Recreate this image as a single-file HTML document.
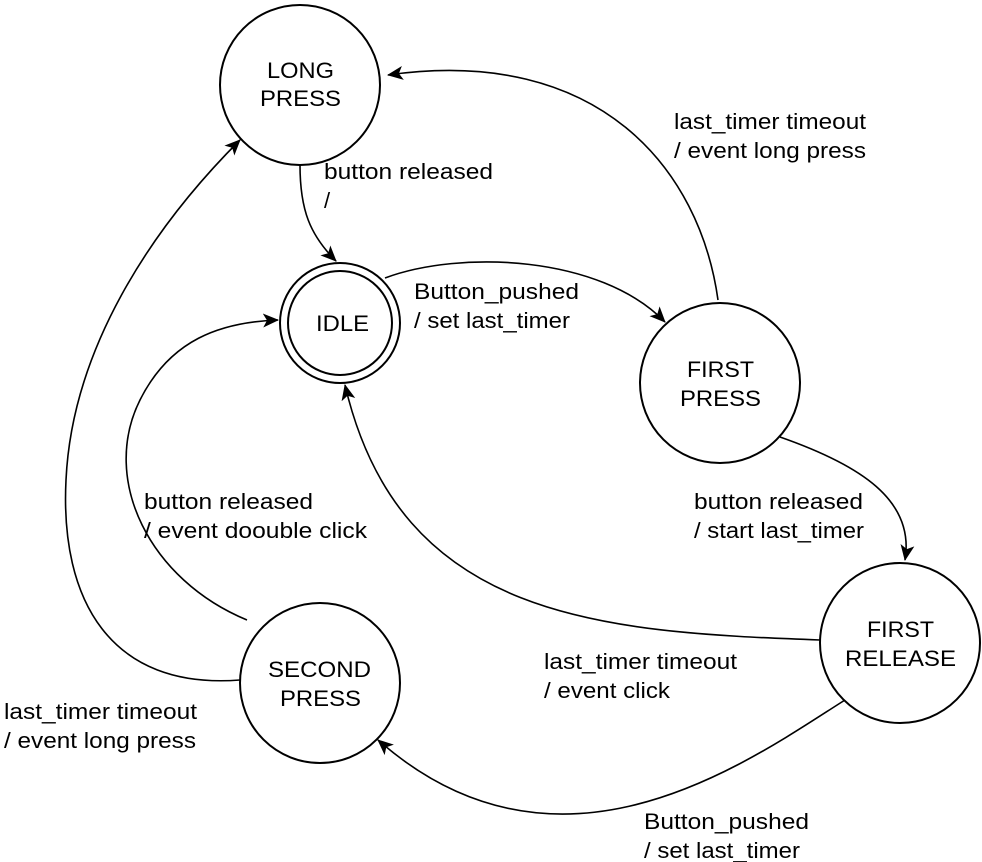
<!DOCTYPE html>
<html><head><meta charset="utf-8"><style>
html,body{margin:0;padding:0;background:#fff;}
svg{display:block;}
text{font-family:"Liberation Sans",Arial,Helvetica,sans-serif;font-size:22px;fill:#000;}
</style></head><body>
<svg width="982" height="862" viewBox="0 0 982 862" xmlns="http://www.w3.org/2000/svg">
<defs><marker id="a" markerWidth="18" markerHeight="16" refX="15" refY="8" orient="auto" markerUnits="userSpaceOnUse"><path d="M0,1 L16,8 L0,15 L4,8 z" fill="#000"/></marker></defs>
<g fill="#fff" stroke="#000" stroke-width="2">
<circle cx="300" cy="85" r="80"/>
<circle cx="340" cy="323" r="60"/>
<circle cx="340" cy="323" r="52"/>
<circle cx="720" cy="383" r="80"/>
<circle cx="900" cy="643" r="80"/>
<circle cx="320" cy="683" r="80"/>
</g>
<g fill="none" stroke="#000" stroke-width="1.6" marker-end="url(#a)">
<path d="M300,165 C300,210 310,235 336,261"/>
<path d="M385,278 C460,250 600,255 665,322"/>
<path d="M718,300 C700,170 600,45 388,75"/>
<path d="M780,437 C860,465 915,500 905,560"/>
<path d="M820,640 C600,632 400,620 345,385"/>
<path d="M845,700 C750,760 560,900 378,740"/>
<path d="M247,620 C150,580 100,480 140,400 C170,340 220,322 278,320"/>
<path d="M240,680 C110,690 60,600 66,480 C72,350 150,230 240,140"/>
</g>
<g text-anchor="start">
<text x="267" y="78" textLength="67" lengthAdjust="spacingAndGlyphs">LONG</text>
<text x="260" y="106" textLength="81" lengthAdjust="spacingAndGlyphs">PRESS</text>
<text x="316" y="331" textLength="53" lengthAdjust="spacingAndGlyphs">IDLE</text>
<text x="687" y="377" textLength="67" lengthAdjust="spacingAndGlyphs">FIRST</text>
<text x="680" y="406" textLength="81" lengthAdjust="spacingAndGlyphs">PRESS</text>
<text x="867" y="637" textLength="67" lengthAdjust="spacingAndGlyphs">FIRST</text>
<text x="845" y="666" textLength="111" lengthAdjust="spacingAndGlyphs">RELEASE</text>
<text x="268" y="677" textLength="103" lengthAdjust="spacingAndGlyphs">SECOND</text>
<text x="280" y="706" textLength="81" lengthAdjust="spacingAndGlyphs">PRESS</text>
<text x="324" y="179" textLength="169" lengthAdjust="spacingAndGlyphs">button released</text>
<text x="324" y="208">/</text>
<text x="414" y="299" textLength="165" lengthAdjust="spacingAndGlyphs">Button_pushed</text>
<text x="414" y="328" textLength="156" lengthAdjust="spacingAndGlyphs">/ set last_timer</text>
<text x="674" y="129" textLength="192" lengthAdjust="spacingAndGlyphs">last_timer timeout</text>
<text x="674" y="158" textLength="192" lengthAdjust="spacingAndGlyphs">/ event long press</text>
<text x="694" y="509" textLength="169" lengthAdjust="spacingAndGlyphs">button released</text>
<text x="694" y="538" textLength="170" lengthAdjust="spacingAndGlyphs">/ start last_timer</text>
<text x="144" y="509" textLength="169" lengthAdjust="spacingAndGlyphs">button released</text>
<text x="144" y="538" textLength="223" lengthAdjust="spacingAndGlyphs">/ event doouble click</text>
<text x="544" y="669" textLength="193" lengthAdjust="spacingAndGlyphs">last_timer timeout</text>
<text x="544" y="698" textLength="126" lengthAdjust="spacingAndGlyphs">/ event click</text>
<text x="4" y="719" textLength="193" lengthAdjust="spacingAndGlyphs">last_timer timeout</text>
<text x="4" y="748" textLength="192" lengthAdjust="spacingAndGlyphs">/ event long press</text>
<text x="644" y="829" textLength="165" lengthAdjust="spacingAndGlyphs">Button_pushed</text>
<text x="644" y="858" textLength="156" lengthAdjust="spacingAndGlyphs">/ set last_timer</text>
</g>
</svg>
</body></html>
